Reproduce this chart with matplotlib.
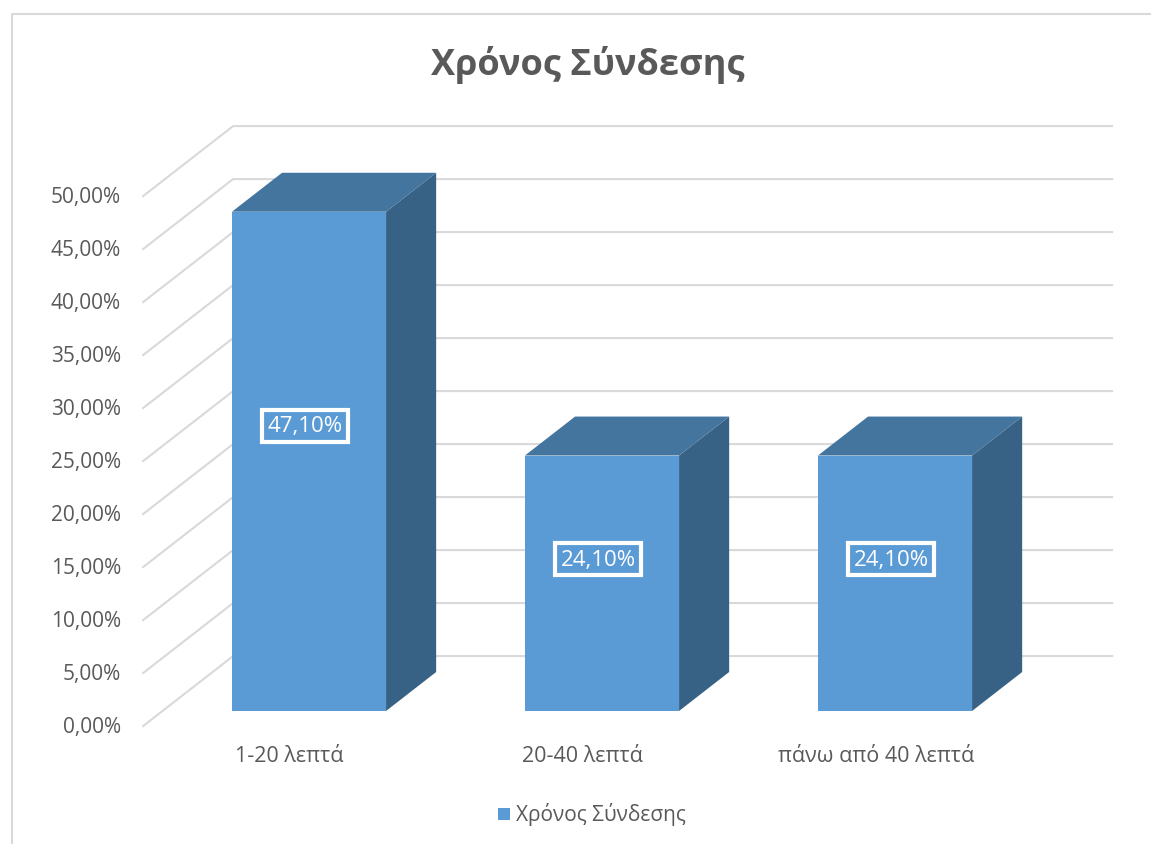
import numpy as np
import matplotlib.pyplot as plt
from matplotlib.patches import Polygon, Rectangle
from matplotlib.lines import Line2D

plt.rcParams['font.family'] = ['Open Sans', 'DejaVu Sans']

# data
categories = ['1-20 λεπτά', '20-40 λεπτά', 'πάνω από 40 λεπτά']
values = [47.1, 24.1, 24.1]
value_labels = ['47,10%', '24,10%', '24,10%']
grid_levels = np.arange(0, 55, 5)
tick_labels = [f'{v:.2f}%'.replace('.', ',') for v in grid_levels]
series_name = 'Χρόνος Σύνδεσης'

# colours
front_col = '#5B9BD5'
top_col = '#44759F'
side_col = '#386285'
grid_col = '#D9D9D9'
text_col = '#595959'

# fake 3D projection: depth z goes 0 (front of walls) .. 1 (back wall)
DX, DY = 0.307, 6.6      # shift of a full depth unit (category units, percent)
F0, F1 = 0.215, 0.772    # bar front and back depth
BW = 0.263               # half bar width
XL, XR = -0.5, 2.5       # wall extent


def proj(x, y, z):
    return x + (z - F0) * DX, y + (z - F0) * DY


fig = plt.figure(figsize=(11.51, 8.45), dpi=100)
ax = fig.add_axes([0, 0, 1, 1])
ax.set_xlim(-1.0546, 2.8737)
ax.set_ylim(-12.55, 67.17)
ax.axis('off')

# outer chart border (only left and top edges are inside the picture)
bx, by = 12 / 1151, 1 - 15 / 845
fig.lines.append(Line2D([bx, bx, 1.05], [-0.05, by, by], transform=fig.transFigure,
                        color='#D9D9D9', lw=1.5, zorder=0))

# gridlines: side wall diagonal + back wall horizontal
for g in grid_levels:
    a = proj(XL, g, 0)
    b = proj(XL, g, 1)
    c = proj(XR, g, 1)
    ax.plot([a[0], b[0], c[0]], [a[1], b[1], c[1]], color=grid_col, lw=1.5,
            solid_joinstyle='miter', zorder=1)

# y tick labels
for g, lab in zip(grid_levels, tick_labels):
    x, y = proj(XL, g, 0)
    ax.text(-0.642, y, lab, ha='right', va='center', fontsize=15, color=text_col)

# bars
for i, v in enumerate(values):
    x0, x1 = i - BW, i + BW
    front = [proj(x0, 0, F0), proj(x1, 0, F0), proj(x1, v, F0), proj(x0, v, F0)]
    top = [proj(x0, v, F0), proj(x1, v, F0), proj(x1, v, F1), proj(x0, v, F1)]
    side = [proj(x1, 0, F0), proj(x1, v, F0), proj(x1, v, F1), proj(x1, 0, F1)]
    ax.add_patch(Polygon(side, closed=True, facecolor=side_col, edgecolor='none', zorder=2))
    ax.add_patch(Polygon(top, closed=True, facecolor=top_col, edgecolor='none', zorder=2))
    ax.add_patch(Polygon(front, closed=True, facecolor=front_col, edgecolor='none', zorder=3))

    # data label in a white framed box
    ax.text(i - 0.013, v * 0.548 + 1.1, value_labels[i], ha='center', va='center',
            fontsize=16, color='white', zorder=5,
            bbox=dict(boxstyle='square,pad=0.25', facecolor='none',
                      edgecolor='white', lw=3))

    # category label
    lx, ly = proj(i, 0, 0)
    ax.text(lx, ly - 2.8, categories[i], ha='center', va='center',
            fontsize=15.5, color=text_col)

# title
ax.text(0.511, 1 - 65 / 845, series_name, transform=fig.transFigure, ha='center',
        va='center', fontsize=26, fontweight='bold', color=text_col)

# legend
fig.patches.append(Rectangle((498 / 1151, 1 - 821 / 845), 12 / 1151, 12 / 845,
                             transform=fig.transFigure, facecolor=front_col,
                             edgecolor='none'))
fig.text(516 / 1151, 1 - 815 / 845, series_name, ha='left', va='center',
         fontsize=15, color=text_col)

fig.savefig('out.png', dpi=100)
